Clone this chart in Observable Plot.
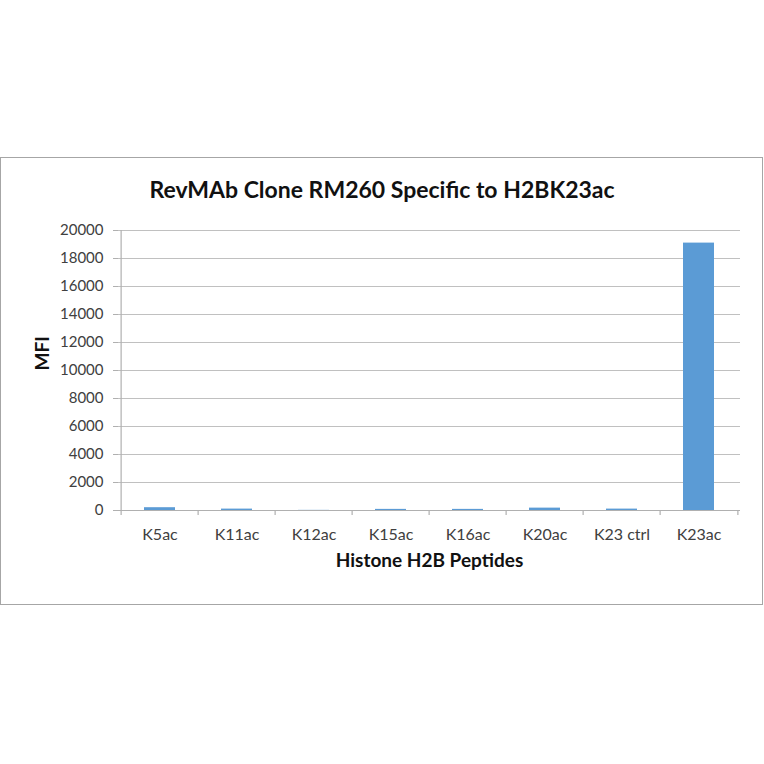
<!DOCTYPE html>
<html>
<head>
<meta charset="utf-8">
<script src="https://cdn.jsdelivr.net/npm/d3@7"></script>
<script src="https://cdn.jsdelivr.net/npm/@observablehq/plot@0.6"></script>
<style>
  html, body { margin: 0; padding: 0; background: #fff; }
  #wrap { position: relative; width: 764px; height: 764px; overflow: hidden; }
  #box { position: absolute; left: 0; top: 157px; width: 761px; height: 446px; border: 1px solid #a6a6a6; }
  #title { position: absolute; left: 0; width: 764px; top: 175px; text-align: center;
           font-family: Lato, sans-serif; font-weight: bold; font-size: 23px; color: #111; }
  #chart { position: absolute; left: 0; top: 0; }
</style>
</head>
<body>
<div id="wrap">
  <div id="box"></div>
  <div id="title">RevMAb Clone RM260 Specific to H2BK23ac</div>
  <div id="chart"></div>
</div>
<script>
const categories = ["K5ac", "K11ac", "K12ac", "K15ac", "K16ac", "K20ac", "K23 ctrl", "K23ac"];
const values = [200, 100, 10, 80, 80, 170, 100, 19100];
const yTicks = [0, 2000, 4000, 6000, 8000, 10000, 12000, 14000, 16000, 18000, 20000];
const xLabel = "Histone H2B Peptides";
const yLabel = "MFI";

const data = categories.map((c, i) => ({category: c, value: values[i]}));

const W = 764, H = 764;
const mL = 118, mR = 24, mT = 230, mB = 254;
const step = (W - mL - mR) / categories.length;
const textColor = "#404040";
const axisColor = "#b0b0b0";

const plot = Plot.plot({
  width: W,
  height: H,
  marginLeft: mL,
  marginRight: mR,
  marginTop: mT,
  marginBottom: mB,
  style: {background: "transparent", fontFamily: "Lato, sans-serif", color: textColor},
  x: {domain: categories, paddingInner: 0.6, paddingOuter: 0.3, label: null},
  y: {domain: [0, 20000], label: null},
  marks: [
    Plot.gridY(yTicks, {stroke: "#c0c0c0", strokeOpacity: 1, strokeWidth: 1.2}),
    Plot.barY(data, {x: "category", y: "value", fill: "#5b9bd5"}),
    Plot.ruleY([0], {stroke: axisColor, strokeWidth: 1.2, insetLeft: -5}),
    Plot.ruleX([categories[0]], {x: d => d, dx: -step / 2, stroke: axisColor, strokeWidth: 1.2}),
    Plot.ruleX(categories, {x: d => d, y1: 0, y2: 0, dx: -step / 2, insetBottom: -5, stroke: axisColor, strokeWidth: 1.2}),
    Plot.ruleX([categories[categories.length - 1]], {x: d => d, y1: 0, y2: 0, dx: step / 2, insetBottom: -5, stroke: axisColor, strokeWidth: 1.2}),
    Plot.axisY(yTicks, {tickSize: 5, tickPadding: 10, fontSize: 15, stroke: axisColor, fill: textColor, tickFormat: d3.format("d"), label: null}),
    Plot.axisX({tickSize: 0, tickPadding: 18, fontSize: 16, fill: textColor, label: null}),
    Plot.text([yLabel], {frameAnchor: "left", dx: -76, rotate: -90, fontSize: 19, fontWeight: "bold", fill: "#111"}),
    Plot.text([xLabel], {frameAnchor: "bottom", dy: 56, fontSize: 19, fontWeight: "bold", fill: "#111"})
  ]
});
document.getElementById("chart").appendChild(plot);
</script>
</body>
</html>
